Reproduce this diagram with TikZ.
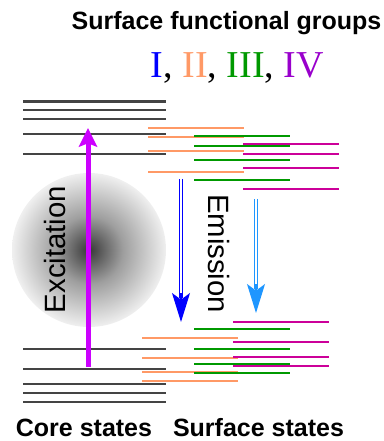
\documentclass[tikz,border=0pt]{standalone}
\usepackage{fontspec}
\setmainfont{Liberation Sans}
\newfontfamily\numfont{Liberation Serif}
\usetikzlibrary{arrows.meta}

\definecolor{coregray}{RGB}{68,68,68}
\definecolor{grpI}{RGB}{0,0,255}
\definecolor{grpII}{RGB}{255,153,102}
\definecolor{grpIII}{RGB}{0,153,0}
\definecolor{grpIV}{RGB}{204,0,153}
\definecolor{numIV}{RGB}{153,0,204}
\definecolor{excite}{RGB}{204,0,255}
\definecolor{emitlight}{RGB}{30,150,255}

\pgfdeclareradialshading{glow}{\pgfpointorigin}{color(0bp)=(black!78); color(11bp)=(black!38); color(25bp)=(black!6); color(50bp)=(black!6)}

\begin{document}
\begin{tikzpicture}[
    x=0.75pt, y=-0.75pt,
    level/.style={line width=1.75pt},
    core/.style={level, draw=coregray, line width=1.9pt},
    title/.style={font=\fontsize{18.75}{20}\selectfont\bfseries, anchor=base, inner sep=0pt},
    vert/.style={font=\fontsize{22}{24}\selectfont, anchor=base, inner sep=0pt},
    excarrow/.style={-{Stealth[length=14pt, width=13.5pt, inset=2.5pt]}, draw=excite, line width=3.75pt},
    shaft/.style={double, double distance=1.5pt, line width=1pt, shorten >=18pt},
    head/.style={-{Stealth[length=21.75pt, width=13.5pt, inset=5pt]}, line width=1pt}
]
\useasboundingbox (0,0) rectangle (383,441);

% Glow behind the core
\shade[shading=glow] (89,250) circle (77);

% Core states
\foreach \y in {101.5,110,119,134,154,349,369,384,393,402}
    \draw[core] (23,\y) -- (166,\y);

% Surface states of the four groups
\foreach \y in {127.7,137.3,151.3,171.7}
    \draw[level, grpII] (148,\y) -- (244,\y);
\foreach \y in {337.7,358,372.3,381.3}
    \draw[level, grpII] (142,\y) -- (238,\y);
\foreach \y in {136,145.7,159.7,180,329,349.3,363.7,372.7}
    \draw[level, grpIII] (194,\y) -- (290,\y);
\foreach \y in {144.3,154,168.3,188.7}
    \draw[level, grpIV] (243,\y) -- (339,\y);
\foreach \y in {322.3,342.3,357.3,366.3}
    \draw[level, grpIV] (233,\y) -- (329,\y);

% Arrow ends
\coordinate (exclow) at (88,367);
\coordinate (exchigh) at (88,128);
\coordinate (bluetop) at (181,179);
\coordinate (bluetip) at (181,322);
\coordinate (lighttop) at (256,199);
\coordinate (lighttip) at (256,313);

% Excitation and emission arrows
\draw[excarrow] (exclow) -- (exchigh);
\draw[shaft, grpI] (bluetop) -- (bluetip);
\draw[head, grpI] ([yshift=21.75pt]bluetip) -- (bluetip);
\draw[shaft, emitlight] (lighttop) -- (lighttip);
\draw[head, emitlight] ([yshift=21.75pt]lighttip) -- (lighttip);

% Labels
\node[title] (groups) at (226.5,29.5) {Surface functional groups};
\node[anchor=base, inner sep=0pt, font=\numfont\fontsize{28.5}{30}\selectfont] (numerals) at (237.5,78)
    {\textcolor{grpI}{I}, \textcolor{grpII}{II}, \textcolor{grpIII}{III}, \textcolor{numIV}{IV}};
\node[vert, rotate=90] (exc) at (65,249.5) {Excitation};
\node[vert, rotate=-90] (emi) at (208,253.5) {Emission};
\node[title] (corelab) at (84,436.5) {Core states};
\node[title] (surflab) at (258.5,436.5) {Surface states};
\end{tikzpicture}
\end{document}
